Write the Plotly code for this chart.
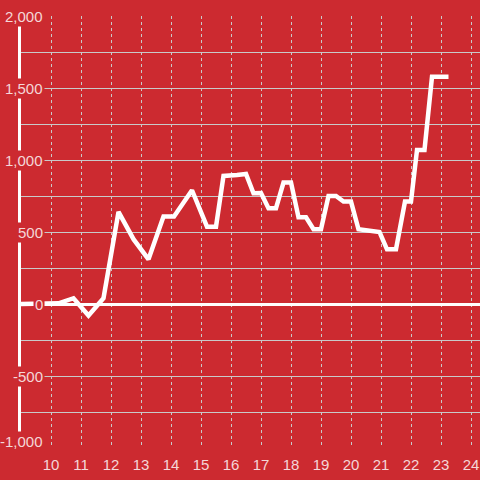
import plotly.graph_objects as go

# Data (hour of day, value)
hours = [9.0, 10.0, 10.25, 10.75, 11.25, 11.75, 12.25, 12.75, 13.25, 13.75, 14.1,
         14.7, 15.2, 15.5, 15.75, 16.2, 16.5, 16.75, 17.0, 17.25, 17.5, 17.75,
         18.0, 18.25, 18.5, 18.75, 19.0, 19.25, 19.5, 19.75, 20.0, 20.25, 20.5,
         20.75, 20.95, 21.2, 21.5, 21.8, 22.0, 22.2, 22.45, 22.7, 23.25]
values = [0, 0, 5, 40, -80, 40, 640, 450, 310, 607, 607,
          790, 537, 537, 889, 896, 903, 769, 770, 665, 665, 843,
          843, 602, 602, 519, 519, 750, 750, 711, 711, 519, 514,
          502, 500, 380, 380, 711, 711, 1069, 1069, 1578, 1578]

x_ticks = list(range(10, 25))
y_ticks = [2000, 1500, 1000, 500, 0, -500, -1000]
y_tick_labels = ["2,000", "1,500", "1,000", "500", "0", "-500", "-1,000"]

BG = "#cc2a30"
LABEL = "rgba(255,255,255,0.82)"
GRID = "#c9c9c9"

fig = go.Figure()
fig.add_trace(go.Scatter(x=hours, y=values, mode="lines",
                         line=dict(color="white", width=4.5),
                         hoverinfo="skip", showlegend=False))

fig.update_layout(
    width=480, height=480,
    paper_bgcolor=BG, plot_bgcolor=BG,
    margin=dict(l=21, r=0, t=16, b=32, autoexpand=False),
    font=dict(family="Liberation Sans, Arial, sans-serif", size=15, color=LABEL),
    showlegend=False,
)
fig.update_xaxes(
    range=[9, 24.3], tickmode="array", tickvals=x_ticks,
    ticktext=[str(t) for t in x_ticks],
    showgrid=True, gridcolor=GRID, griddash="dot", gridwidth=1,
    zeroline=False, showline=False, automargin=False,
    ticks="outside", ticklen=3, tickcolor="rgba(0,0,0,0)",
    tickfont=dict(size=15, color=LABEL),
)
fig.update_yaxes(
    range=[-1000, 2000], tickmode="linear", tick0=0, dtick=500,
    showgrid=True, gridcolor=GRID, gridwidth=1,
    minor=dict(tickmode="linear", tick0=0, dtick=250, showgrid=True,
               gridcolor=GRID, gridwidth=1),
    zeroline=True, zerolinecolor="white", zerolinewidth=3,
    showline=True, linecolor="white", linewidth=3, automargin=False,
    showticklabels=False,
)

for v, t in zip(y_ticks, y_tick_labels):
    fig.add_annotation(
        x=(45 - 21) / 459, xref="paper", xanchor="right",
        y=v, yref="y", yanchor="middle",
        yshift=(7 if v == -1000 else 0),
        text=t, showarrow=False, bgcolor=BG, borderpad=1,
        font=dict(size=15, color=LABEL,
                  family="Liberation Sans, Arial, sans-serif"),
    )

fig.write_html("out.html",
               config={"displayModeBar": False},
               post_script="document.body.style.margin='0';"
                           "document.body.style.overflow='hidden';")
